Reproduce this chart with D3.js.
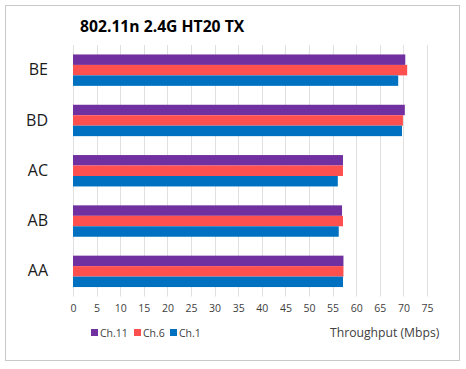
<!DOCTYPE html>
<html>
<head>
<meta charset="utf-8">
<script src="https://cdn.jsdelivr.net/npm/d3@7"></script>
<style>
  body { margin: 0; background: #fff; }
  svg text { font-family: "Open Sans", "Noto Sans", sans-serif; }
</style>
</head>
<body>
<div id="chart"></div>
<script>
// data
var categories = ["BE", "BD", "AC", "AB", "AA"];
var seriesNames = ["Ch.11", "Ch.6", "Ch.1"];
var ch11 = [70.4, 70.3, 57.2, 57.0, 57.3];
var ch6 = [70.8, 69.9, 57.2, 57.2, 57.3];
var ch1 = [68.9, 69.7, 56.1, 56.3, 57.2];
var xTicks = [0, 5, 10, 15, 20, 25, 30, 35, 40, 45, 50, 55, 60, 65, 70, 75];
var colors = ["#7030a0", "#ff5050", "#0070c0"];

var W = 466, H = 369;

var svg = d3.select("#chart")
    .append("svg")
    .attr("width", W)
    .attr("height", H);

// frame
svg.append("rect")
    .attr("x", 5.5).attr("y", 5.5)
    .attr("width", 454).attr("height", 355)
    .attr("fill", "white")
    .attr("stroke", "#c9c9c9");

var x = d3.scaleLinear().domain([0, 75]).range([73, 427]);
var y = d3.scaleBand().domain(categories).range([45, 296.5])
    .paddingInner(0.376).paddingOuter(0.188);
var y1 = d3.scaleBand().domain(seriesNames).range([0, y.bandwidth()]);

// gridlines
svg.append("g")
    .selectAll("line")
    .data(xTicks)
    .enter()
    .append("line")
    .attr("x1", function(d) { return Math.round(x(d)) + 0.5; })
    .attr("x2", function(d) { return Math.round(x(d)) + 0.5; })
    .attr("y1", 45)
    .attr("y2", 296.5)
    .attr("stroke", "#e0e0e0");

// x axis labels (no domain line)
var xAxis = svg.append("g")
    .attr("transform", "translate(0,305)")
    .call(d3.axisBottom(x).tickValues(xTicks).tickSize(0).tickPadding(0));
xAxis.select(".domain").remove();
xAxis.selectAll("text")
    .attr("fill", "#404040")
    .style("font-size", "10.5px")
    .style("font-family", "Open Sans, sans-serif");

// y axis labels
var yAxis = svg.append("g")
    .attr("transform", "translate(48,0)")
    .call(d3.axisLeft(y).tickSize(0).tickPadding(0));
yAxis.select(".domain").remove();
yAxis.selectAll("text")
    .attr("fill", "#1a1a1a")
    .style("font-size", "16px")
    .style("font-family", "Open Sans, sans-serif");

var rows = categories.map(function(c, i) {
  return { cat: c, vals: [ch11[i], ch6[i], ch1[i]] };
});

var groups = svg.append("g")
    .selectAll("g")
    .data(rows)
    .enter()
    .append("g")
    .attr("transform", function(d) { return "translate(0," + y(d.cat) + ")"; });

groups.selectAll("rect")
    .data(function(d) { return d.vals.map(function(v, j) { return { s: seriesNames[j], v: v, c: colors[j] }; }); })
    .enter()
    .append("rect")
    .attr("x", x(0))
    .attr("y", function(d) { return y1(d.s); })
    .attr("width", function(d) { return x(d.v) - x(0); })
    .attr("height", y1.bandwidth())
    .attr("fill", function(d) { return d.c; });

// title
svg.append("text")
    .attr("x", 80)
    .attr("y", 32)
    .attr("fill", "#000")
    .style("font-size", "15.7px")
    .style("font-weight", "bold")
    .text("802.11n 2.4G HT20 TX");

// legend
var legX = [91, 134, 170];
var leg = svg.append("g")
    .selectAll("g")
    .data(seriesNames)
    .enter()
    .append("g")
    .attr("transform", function(d, i) { return "translate(" + legX[i] + ",329)"; });
leg.append("rect")
    .attr("width", 7).attr("height", 7)
    .attr("fill", function(d, i) { return colors[i]; });
leg.append("text")
    .attr("x", 9)
    .attr("y", 7.5)
    .attr("fill", "#404040")
    .style("font-size", "10.5px")
    .text(function(d) { return d; });

// axis title
svg.append("text")
    .attr("x", 330)
    .attr("y", 337)
    .attr("fill", "#404040")
    .style("font-size", "12.2px")
    .text("Throughput (Mbps)");
</script>
</body>
</html>
